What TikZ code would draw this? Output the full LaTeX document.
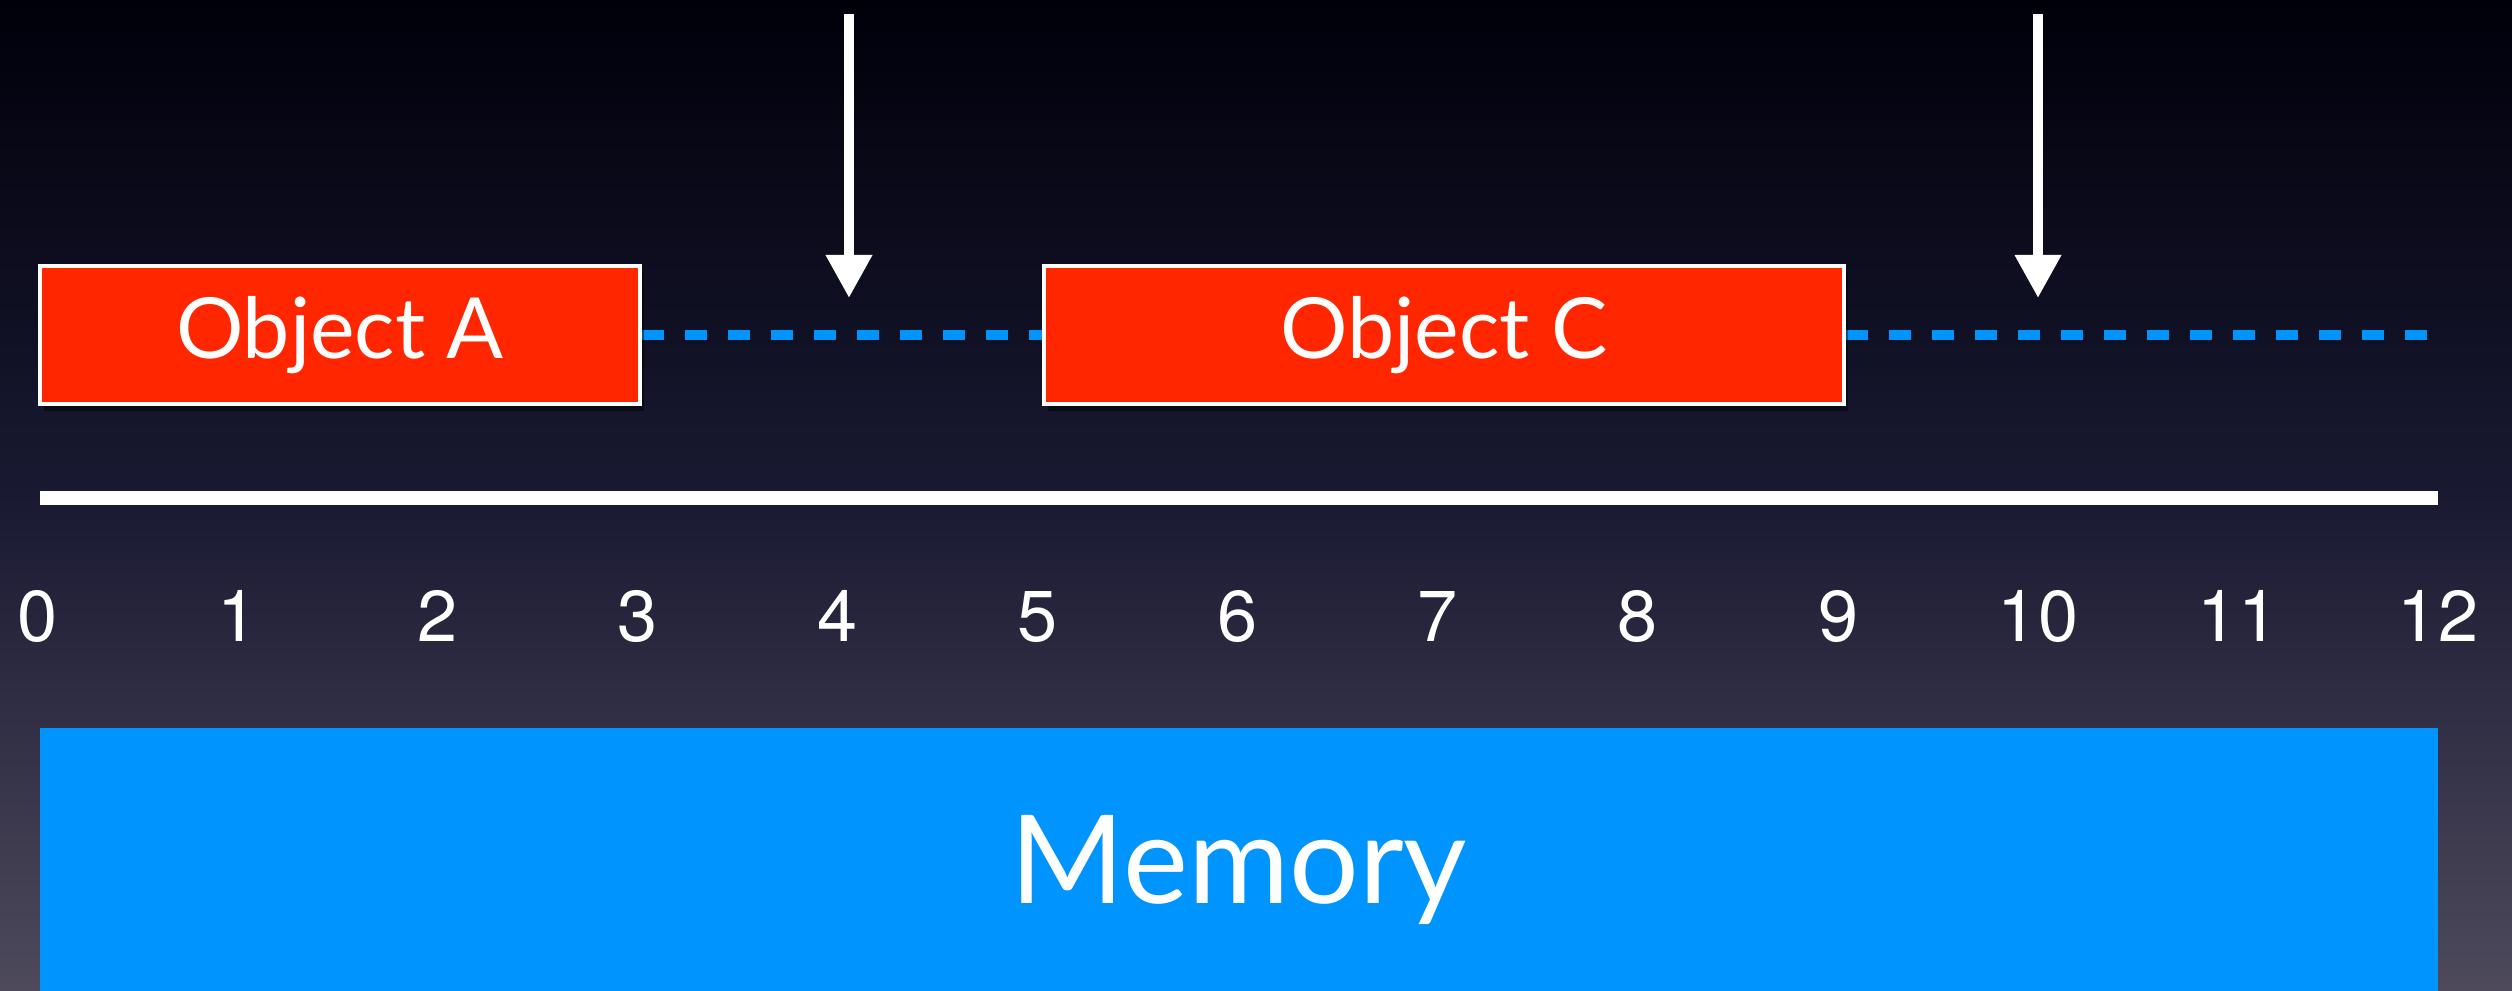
\documentclass[tikz,border=0pt]{standalone}
\usepackage{fontspec}
\setmainfont{Lato}
\newfontfamily\numfont{TeX Gyre Heros}
\usetikzlibrary{arrows.meta, backgrounds, shadows}
\definecolor{objred}{RGB}{255,38,0}
\definecolor{memblue}{RGB}{0,148,255}
\definecolor{bgtop}{RGB}{0,0,10}
\definecolor{bgmid}{RGB}{25,25,50}
\definecolor{bgbot}{RGB}{78,74,92}
\tikzset{
  objbox/.style={rectangle, draw=white, line width=0.45mm, fill=objred,
    minimum height=1.38cm, text=white, font=\fontsize{24}{28}\selectfont,
    drop shadow={shadow xshift=0.4mm, shadow yshift=-0.7mm, opacity=0.45,
      fill=black}},
  membox/.style={rectangle, fill=memblue, minimum width=23.98cm,
    minimum height=2.87cm, text=white, font=\fontsize{35}{40}\selectfont,
    text height=0.9cm, text depth=0.25cm},
  numlabel/.style={text=white, font=\numfont\fontsize{20.5}{24}\selectfont,
    anchor=base, inner sep=0pt},
  gapline/.style={memblue, line width=1.05mm, dash pattern=on 2.2mm off 2.1mm},
  ruler/.style={white, line width=1.4mm},
  pointer/.style={-{Triangle[length=4.3mm, width=4.4mm]}, white, line width=1mm},
}

\begin{document}
\begin{tikzpicture}[x=2cm, y=1cm]
  \useasboundingbox (-0.19,0) rectangle (12.37,9.91);
  \begin{scope}[on background layer]
    \shade[top color=bgtop, bottom color=bgbot, middle color=bgmid]
      (-0.19,0) rectangle (12.37,9.91);
  \end{scope}
  \clip (-0.19,0) rectangle (12.37,9.91);

  % Objects in the heap
  \node[objbox, minimum width=6cm] (objA) at (1.51,6.56) {Object A};
  \node[objbox, minimum width=8cm] (objC) at (7.03,6.56) {Object C};

  % Free space
  \coordinate (freeend) at (12,6.56);
  \begin{scope}[on background layer]
    \draw[gapline] (objA.east) -- (freeend);
  \end{scope}

  % Allocation pointers
  \coordinate (ptrAtop) at (4.055,9.77);
  \coordinate (ptrAtip) at (4.055,6.93);
  \coordinate (ptrBtop) at (10,9.77);
  \coordinate (ptrBtip) at (10,6.93);
  \draw[pointer] (ptrAtop) -- (ptrAtip);
  \draw[pointer] (ptrBtop) -- (ptrBtip);

  % Address axis
  \coordinate (axis0) at (0.01,4.93);
  \coordinate (axis12) at (12,4.93);
  \draw[ruler] (axis0) -- (axis12);
  \foreach \n in {0,...,12}
    \node[numlabel] (addr\n) at (\n,3.49) {\n};

  % Memory
  \node[membox, anchor=base] (memory) at (6.005,0.87) {Memory};
\end{tikzpicture}
\end{document}
